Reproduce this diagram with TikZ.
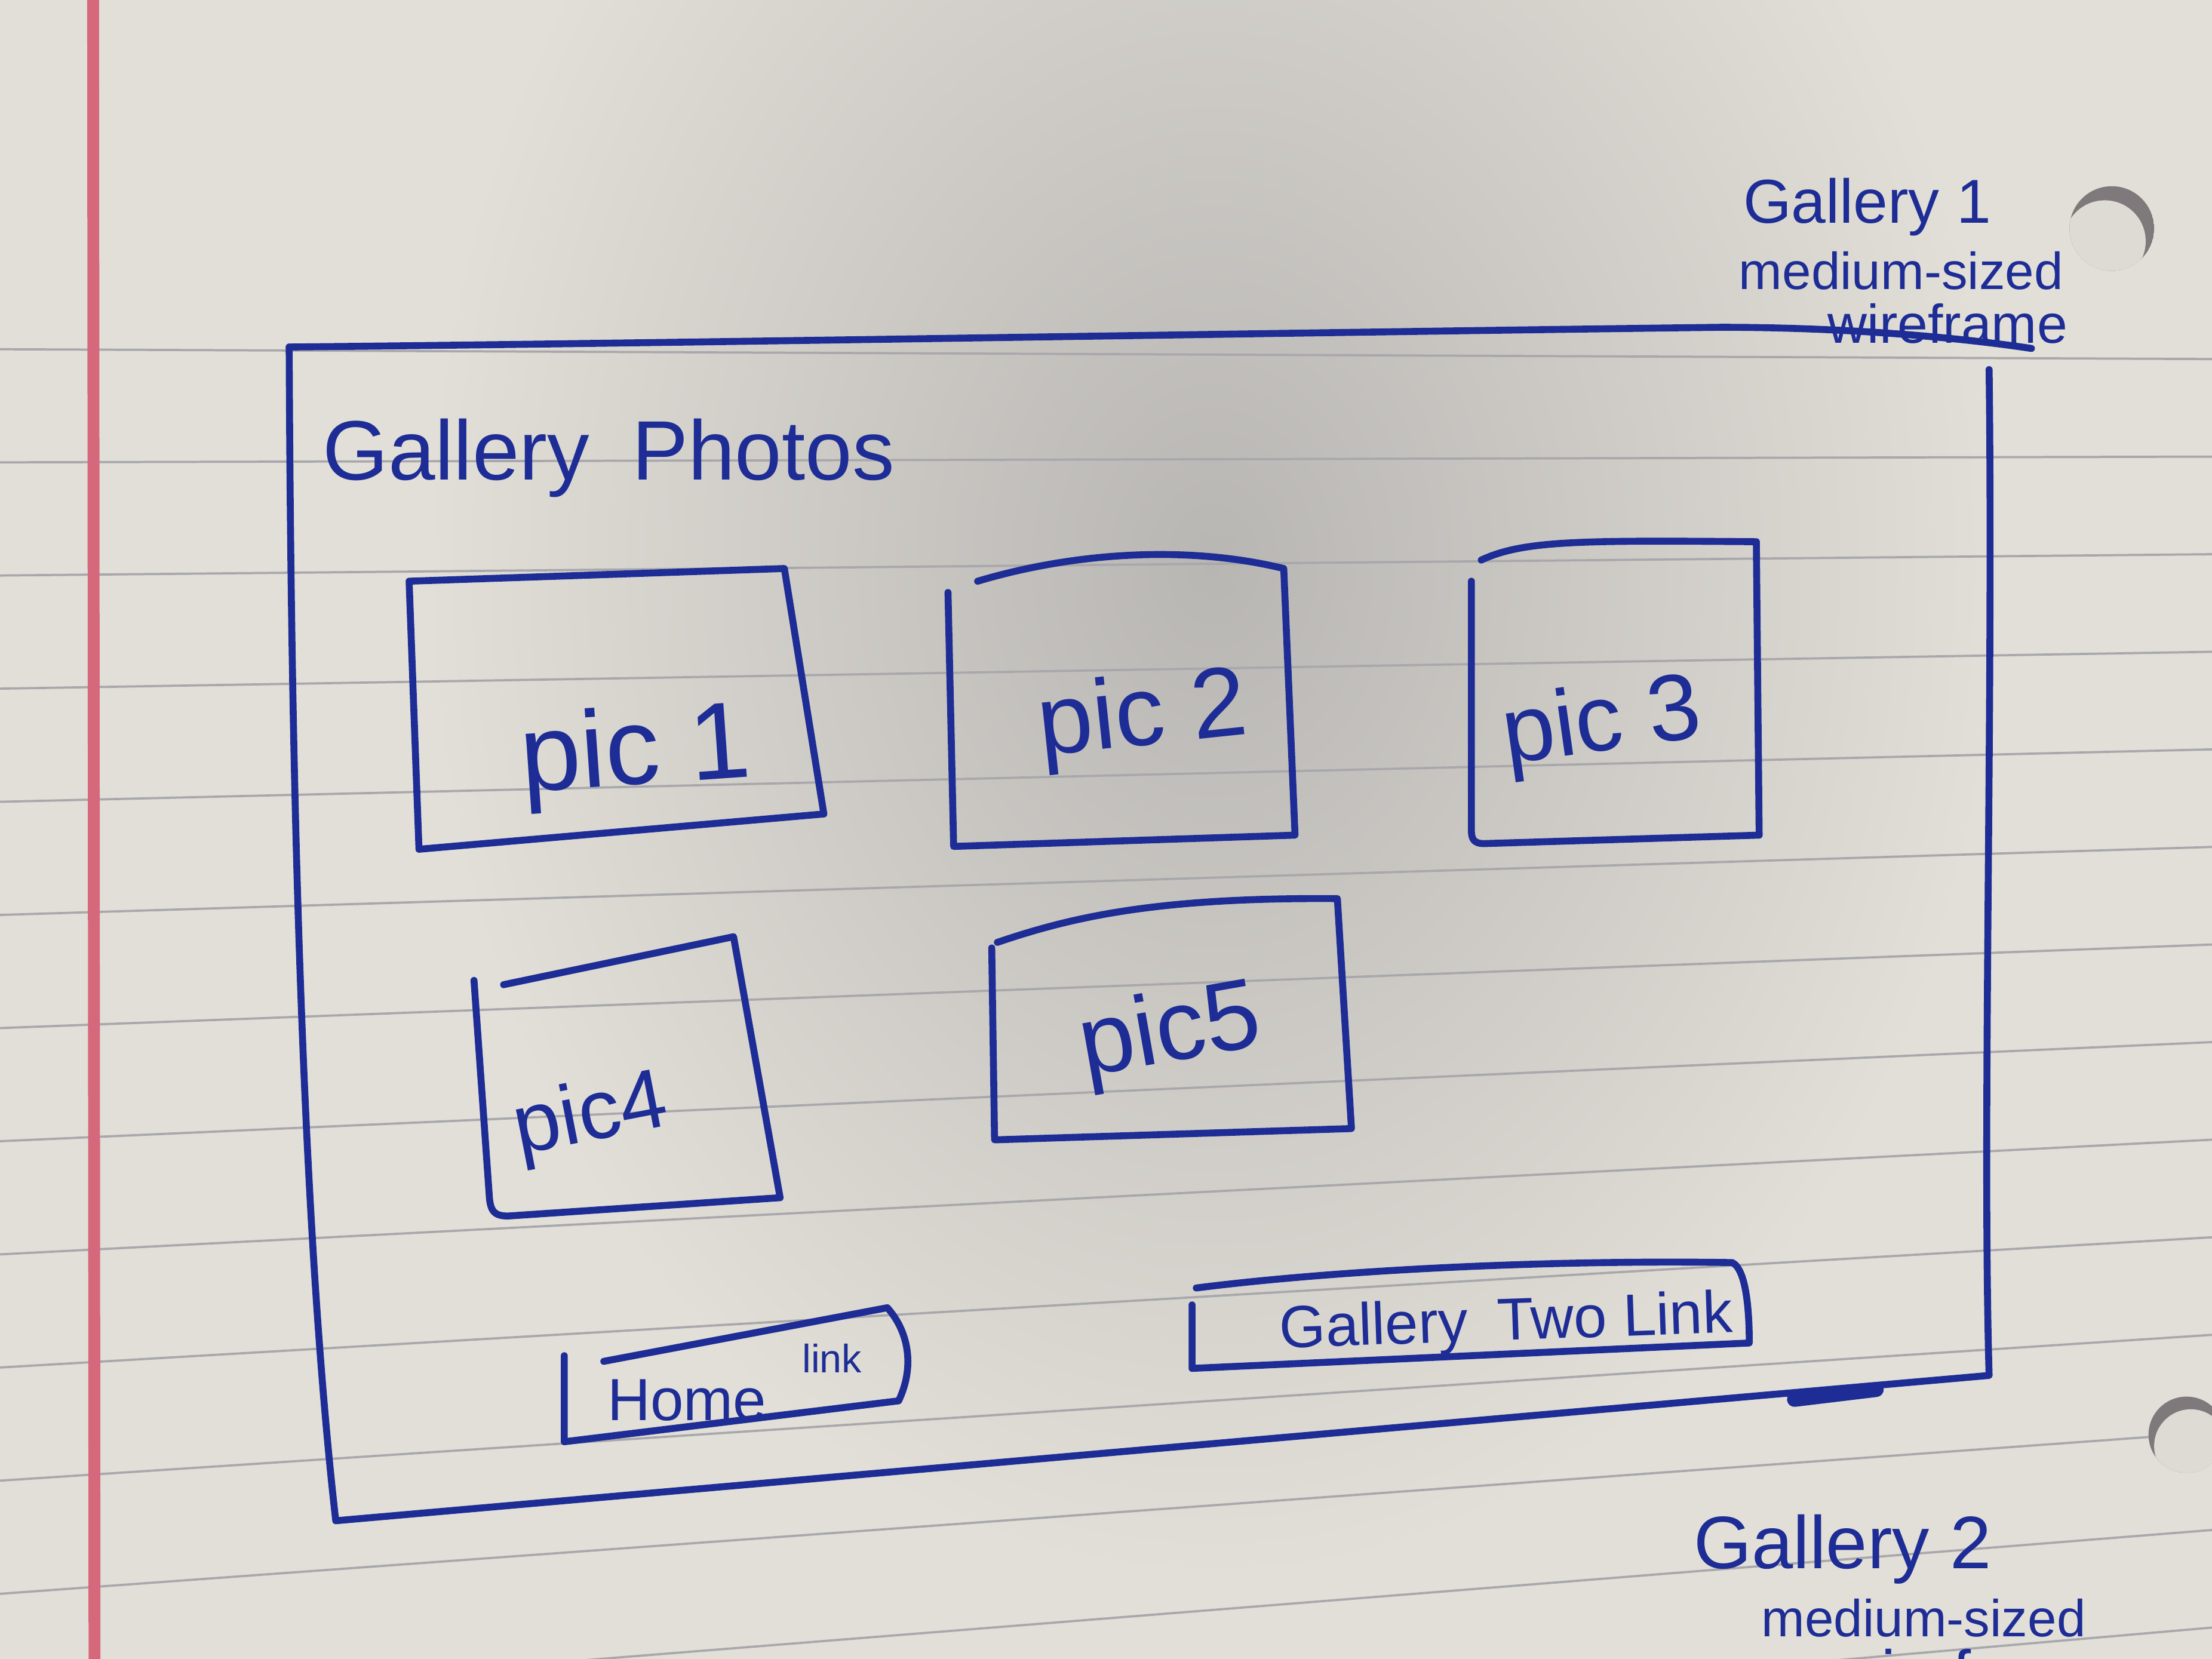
\documentclass[tikz,border=0pt]{standalone}
\usepackage{fontspec}
\setmainfont{Liberation Sans}
\usepackage{tikz}
\usetikzlibrary{positioning}

\definecolor{ink}{RGB}{30,45,150}
\definecolor{paper}{RGB}{226,223,216}
\definecolor{shadowgray}{RGB}{184,182,179}
\definecolor{ruling}{RGB}{168,168,172}
\definecolor{marginred}{RGB}{214,104,124}
\definecolor{holedark}{RGB}{128,121,124}
\definecolor{holelight}{RGB}{222,219,213}

\begin{document}
\begin{tikzpicture}[x=0.01cm, y=-0.01cm]
    % styles
    \tikzstyle{pen} = [draw=ink, line width=1.4pt, line cap=round, line join=round]
    \tikzstyle{hand} = [text=ink, inner sep=0pt]
    \tikzstyle{ruled} = [draw=ruling, line width=0.45pt, shorten <=-1.2cm, shorten >=-1.4cm]

    % paper
    \useasboundingbox (0,0) rectangle (1568,1176);
    \clip (0,0) rectangle (1568,1176);
    \fill[paper] (0,0) rectangle (1568,1176);
    \shade[inner color=shadowgray, outer color=paper] (860,400) ellipse (560 and 720);
    \foreach \k in {0,...,13}
        \draw[ruled] (100,248+79.5*\k) -- (1450,254+70*\k);
    \draw[marginred, line width=2.4pt] (66,0) -- (67,1176);

    % punched holes
    \begin{scope}
        \clip (1497,162) circle (30);
        \fill[holedark] (1497,162) circle (30);
        \fill[holelight] (1492,171) circle (29);
    \end{scope}
    \begin{scope}
        \clip (1550,1017) circle (27);
        \fill[holedark] (1550,1017) circle (27);
        \fill[holelight] (1553,1025) circle (26);
    \end{scope}

    % wireframe border
    \draw[pen] (205,246) .. controls (500,243) and (900,236) .. (1220,232) .. controls (1300,232) and (1380,238) .. (1440,247);
    \draw[pen] (205,246) .. controls (206,500) and (212,850) .. (238,1078) -- (1410,975) .. controls (1405,800) and (1413,500) .. (1410,262);
    \draw[pen, line width=3pt] (1272,992) -- (1330,985);

    % picture boxes
    \draw[pen] (290,412) -- (556,403) -- (584,577) -- (297,602) -- cycle;
    \draw[pen] (693,412) .. controls (760,392) and (840,386) .. (910,403) -- (918,592) -- (676,600) -- (672,420);
    \draw[pen] (1050,397) .. controls (1080,383) and (1120,383) .. (1245,384) -- (1247,592) -- (1052,598) .. controls (1044,598) and (1043,594) .. (1043,588) -- (1043,412);
    \draw[pen] (357,698) -- (520,664) -- (553,849) -- (360,862) .. controls (350,862) and (348,858) .. (347,850) -- (336,695);
    \draw[pen] (707,668) .. controls (760,650) and (820,636) .. (948,637) -- (958,800) -- (705,808) -- (703,672);

    % link buttons
    \draw[pen] (428,965) -- (629,927) .. controls (645,945) and (648,970) .. (637,993) -- (400,1022) -- (400,961);
    \draw[pen] (848,913) .. controls (950,900) and (1100,893) .. (1228,895) .. controls (1238,900) and (1240,930) .. (1240,952) -- (845,970) -- (845,925);

    % labels
    \node (title) [hand, anchor=base west, font=\fontsize{17}{20}\selectfont] at (228,340) {Gallery\enspace Photos};
    \node (pic1) [hand, anchor=base, rotate=4, font=\fontsize{22}{26}\selectfont] at (452,556) {pic 1};
    \node (pic2) [hand, anchor=base, rotate=6, font=\fontsize{20}{24}\selectfont] at (812,528) {pic 2};
    \node (pic3) [hand, anchor=base, rotate=8, font=\fontsize{19}{23}\selectfont] at (1138,532) {pic 3};
    \node (pic4) [hand, anchor=base, rotate=11, font=\fontsize{17}{21}\selectfont] at (422,808) {pic4};
    \node (pic5) [hand, anchor=base, rotate=10, font=\fontsize{20}{24}\selectfont] at (833,752) {pic5};
    \node (home) [hand, anchor=base west, font=\fontsize{12}{14}\selectfont] at (430,1007) {Home};
    \node (homelink) [hand, anchor=base west, font=\fontsize{8}{9}\selectfont] at (568,973) {link};
    \node (gallerytwo) [hand, anchor=base, rotate=2, font=\fontsize{12}{14}\selectfont] at (1068,950) {Gallery\enspace Two Link};

    % page notes
    \node (g1) [hand, anchor=base west, font=\fontsize{12.5}{15}\selectfont] at (1235,158) {Gallery 1};
    \node (g1size) [hand, anchor=base west, font=\fontsize{10.5}{12}\selectfont] at (1232,205) {medium-sized};
    \node (g1wire) [hand, anchor=base west, font=\fontsize{11}{13}\selectfont] at (1295,243) {wireframe};
    \node (g2) [hand, anchor=base west, font=\fontsize{15}{18}\selectfont] at (1200,1112) {Gallery 2};
    \node (g2size) [hand, anchor=base west, font=\fontsize{10.5}{12}\selectfont] at (1248,1160) {medium-sized};
    \node (g2wire) [hand, anchor=base west, font=\fontsize{13}{16}\selectfont] at (1300,1202) {wireframe};
\end{tikzpicture}
\end{document}
